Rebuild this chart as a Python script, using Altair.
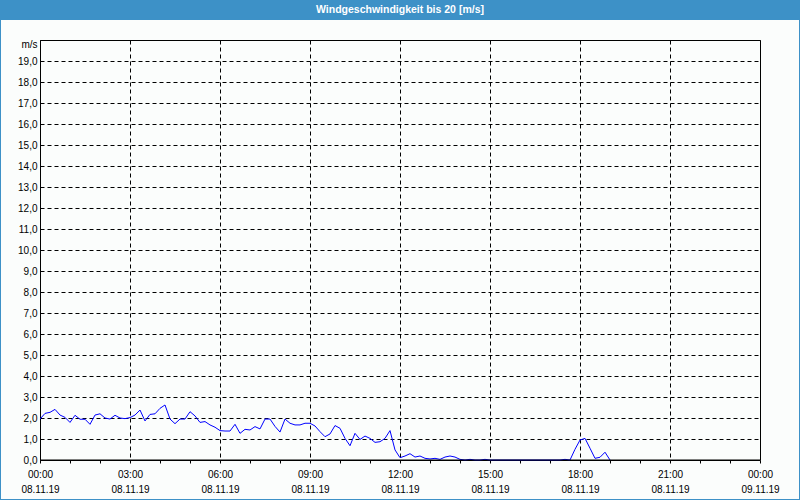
import altair as alt
import pandas as pd

title_text = "Windgeschwindigkeit bis 20 [m/s]"
start_time = "2019-11-08 00:00"
step = "10min"

# wind speed [m/s], one value every 10 minutes from 00:00 to 19:00
speeds = [
    1.95, 2.22, 2.27, 2.41, 2.14, 2.03,   # 00h
    1.79, 2.13, 1.94, 1.94, 1.70, 2.14,   # 01h
    2.20, 2.00, 1.95, 2.13, 2.00, 1.97,   # 02h
    2.02, 2.14, 2.38, 1.86, 2.17, 2.20,   # 03h
    2.46, 2.62, 1.95, 1.73, 1.95, 1.95,   # 04h
    2.30, 2.10, 1.79, 1.83, 1.67, 1.56,   # 05h
    1.40, 1.38, 1.38, 1.70, 1.27, 1.46,   # 06h
    1.43, 1.59, 1.48, 1.95, 1.95, 1.60,   # 07h
    1.33, 1.95, 1.75, 1.67, 1.67, 1.75,   # 08h
    1.75, 1.62, 1.35, 1.11, 1.24, 1.64,   # 09h
    1.51, 1.03, 0.68, 1.27, 0.98, 1.14,   # 10h
    1.03, 0.84, 0.87, 1.03, 1.40, 0.48,   # 11h
    0.11, 0.19, 0.30, 0.14, 0.19, 0.08,   # 12h
    0.05, 0.08, 0.03, 0.14, 0.19, 0.14,   # 13h
    0.03, 0.00, 0.03, 0.00, 0.00, 0.03,   # 14h
    0.00, 0.00, 0.00, 0.00, 0.00, 0.00,   # 15h
    0.00, 0.00, 0.00, 0.00, 0.00, 0.00,   # 16h
    0.00, 0.00, 0.00, 0.03, 0.00, 0.51,   # 17h
    0.95, 1.03, 0.56, 0.08, 0.13, 0.37,   # 18h
    0.00,                                 # 19h
]
y_ticks = list(range(0, 21))
hours = list(range(0, 25))

times = pd.date_range(start_time, periods=len(speeds), freq=step)
df = pd.DataFrame({"t": times, "v": speeds})

BLUE = "#3d91c7"
FONT = "Liberation Sans"

x_ticks = [alt.DateTime(year=2019, month=11, date=8 + h // 24, hours=h % 24) for h in hours]
x_domain = [x_ticks[0], x_ticks[-1]]

x_axis = alt.Axis(
    values=x_ticks,
    title=None,
    domain=False,
    ticks=True,
    tickSize=3,
    tickColor="black",
    labelExpr="hours(datum.value) % 3 === 0 ? [timeFormat(datum.value, '%H:%M'), timeFormat(datum.value, '%d.%m.%y')] : ''",
    labelLineHeight=15,
    labelPadding=6,
    labelAngle=0,
    labelOverlap=False,
    labelFlush=False,
    grid=True,
    gridColor="black",
    gridDash=[4, 3],
    gridWidth=1,
    gridOpacity={"condition": {"test": "hours(datum.value) % 3 === 0", "value": 1}, "value": 0},
)

y_axis = alt.Axis(
    values=y_ticks,
    title=None,
    domain=False,
    ticks=False,
    labelPadding=3,
    labelOverlap=False,
    labelFlush=False,
    labelExpr="datum.value == 20 ? 'm/s' : replace(format(datum.value, '.1f'), '.', ',')",
    labelOffset={"condition": {"test": "datum.value == 20", "value": 4}, "value": 0},
    grid=True,
    gridColor="black",
    gridDash=[4, 3],
    gridWidth=1,
)
y_scale = alt.Scale(domain=[0, 20], nice=False, zero=True)

one = pd.DataFrame({"k": [0]})

bar = alt.Chart(one).mark_rect(color=BLUE).encode(
    x=alt.value(-40), x2=alt.value(760), y=alt.value(-40), y2=alt.value(-20)
)
border = alt.Chart(one).mark_rect(filled=False, stroke=BLUE, strokeWidth=2).encode(
    x=alt.value(-40), x2=alt.value(760), y=alt.value(-40), y2=alt.value(460)
)
title_mark = alt.Chart(one).mark_text(
    color="white", font=FONT, fontSize=10.5, fontWeight="bold",
    align="center", baseline="middle",
).encode(x=alt.value(360), y=alt.value(-30), text=alt.value(title_text))

line = alt.Chart(df).mark_line(color="#0000ff", strokeWidth=1).encode(
    x=alt.X("t:T", scale=alt.Scale(domain=x_domain, nice=False), axis=x_axis),
    y=alt.Y("v:Q", scale=y_scale, axis=y_axis),
)

zero_rule = alt.Chart(one).mark_rule(color="black", strokeWidth=1).encode(
    y=alt.YDatum(0, type="quantitative", scale=y_scale, axis=y_axis),
    x=alt.value(0),
    x2=alt.value(720),
)

chart = (
    alt.layer(bar, border, title_mark, line, zero_rule)
    .properties(
        width=720,
        height=420,
        autosize="none",
        padding={"left": 40, "top": 40, "right": 40, "bottom": 40},
        background="#fbfdfc",
    )
    .configure_view(stroke="black", strokeWidth=1, fill="#fbfdfc")
    .configure_axis(labelFont=FONT, labelFontSize=10, labelColor="black")
)

chart.save("out.html", embed_options={"renderer": "svg", "actions": False})
